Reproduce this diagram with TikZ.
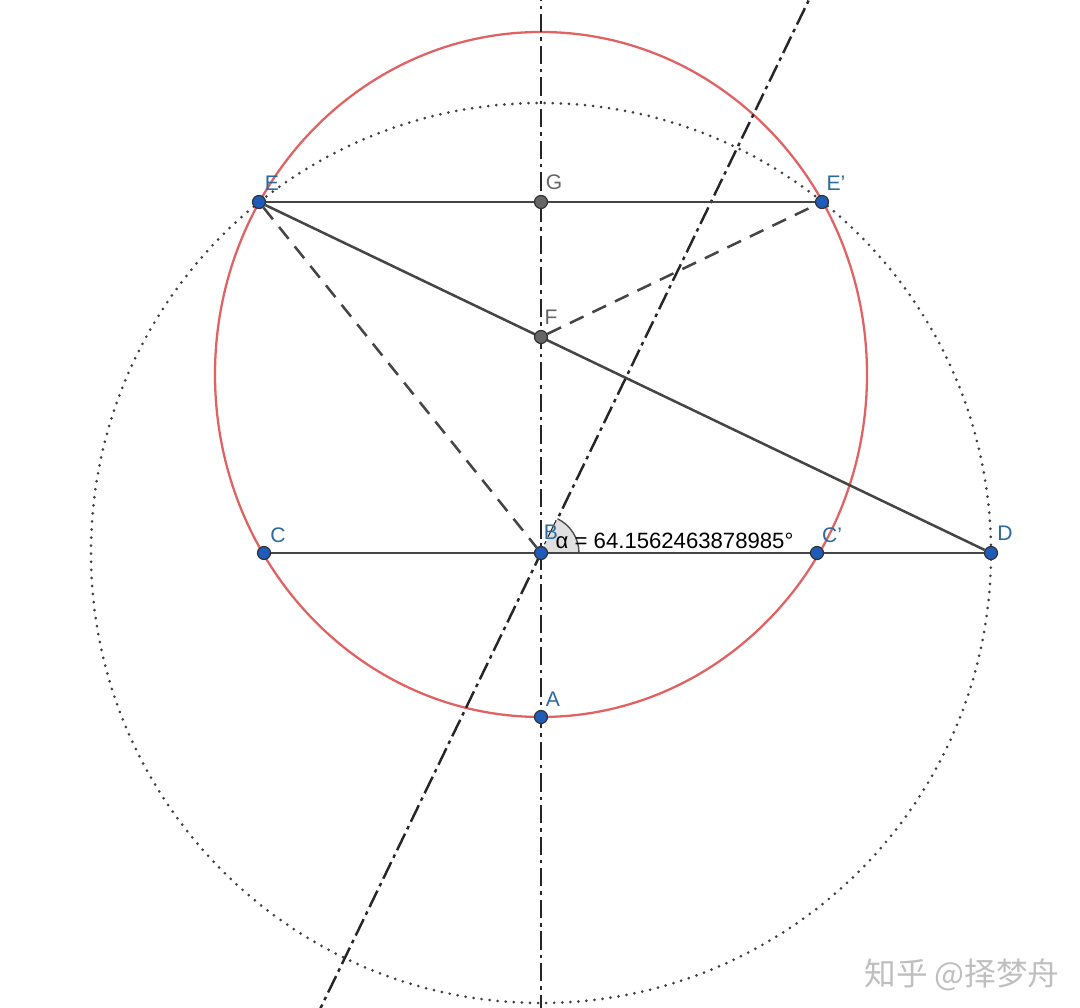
\documentclass[tikz,border=0pt]{standalone}
\usepackage{fontspec}
\setmainfont{Liberation Sans}
\newfontfamily\cjkfont{Noto Sans CJK SC}
\usepackage{tikz}
\usetikzlibrary{backgrounds}

\definecolor{ptblue}{HTML}{1F5BB8}
\definecolor{lblblue}{HTML}{2B6A9E}
\definecolor{ringred}{HTML}{E06262}
\definecolor{segdark}{HTML}{454545}

\begin{document}
\begin{tikzpicture}[
    pt/.style={circle, draw=black!80, fill=ptblue, line width=0.35pt, inner sep=0pt, minimum size=0.13cm},
    gpt/.style={pt, fill=black!60},
    lbl/.style={font=\fontsize{6}{7}\selectfont, text=lblblue, inner sep=0pt, anchor=center},
    glbl/.style={lbl, text=black!60},
    seg/.style={segdark, line width=0.72pt},
    dseg/.style={seg, dash pattern=on 4.3pt off 2.8pt},
    axisline/.style={black!85, line width=0.7pt, dash pattern=on 5.2pt off 1.4pt on 1pt off 1.4pt},
    ring/.style={ringred, line width=0.65pt},
    dotring/.style={black!75, line width=0.85pt, line cap=round, dash pattern=on 0pt off 2.3pt},
    wmark/.style={font=\cjkfont\fontsize{9}{10}\selectfont, text=black!25}
]
    \useasboundingbox (-5.41, -4.55) rectangle (5.39, 5.53);

    \node[pt] at (0, 0) (B) {};
    \node[pt] at (0, -1.64) (A) {};
    \node[pt] at (-2.77, 0) (C) {};
    \node[pt] at (2.76, 0) (Cp) {};
    \node[pt] at (4.50, 0) (D) {};
    \node[pt] at (-2.82, 3.51) (E) {};
    \node[pt] at (2.81, 3.51) (Ep) {};
    \node[gpt] at (0, 3.51) (G) {};
    \node[gpt] at (0, 2.16) (F) {};

    \node[lbl] at (0.10, 0.21) (lB) {B};
    \node[lbl] at (0.12, -1.46) (lA) {A};
    \node[lbl] at (-2.63, 0.18) (lC) {C};
    \node[lbl] at (2.91, 0.18) (lCp) {C'};
    \node[lbl] at (4.64, 0.20) (lD) {D};
    \node[lbl] at (-2.69, 3.70) (lE) {E};
    \node[lbl] at (2.95, 3.70) (lEp) {E'};
    \node[glbl] at (0.13, 3.71) (lG) {G};
    \node[glbl] at (0.10, 2.36) (lF) {F};
    \node[anchor=west, inner sep=0pt, font=\fontsize{6.3}{7}\selectfont] at (0.14, 0.12) (ang) {α = 64.1562463878985°};

    \node[wmark] at (4.21, -4.22) (wm) {知乎 @择梦舟};

    \coordinate (Vt) at (0, 5.6);
    \coordinate (Vb) at (0, -4.6);
    \coordinate (St) at (64.156:6.3);
    \coordinate (Sb) at (244.156:5.2);

    \begin{pgfonlayer}{background}
        \clip (-5.41, -4.55) rectangle (5.39, 5.53);
        \draw[ring] (0, 1.785) ellipse [x radius=3.26, y radius=3.425];
        \draw[dotring] (B.center) circle (4.5);

        \draw[axisline] (Vb) -- (Vt);
        \draw[axisline] (Sb) -- (St);

        \fill[black!12] (B.center) -- (0:0.38) arc (0:64.156:0.38) -- cycle;
        \draw[black!70, line width=0.4pt] (0:0.38) arc (0:64.156:0.38);

        \draw[seg] (E) -- (Ep);
        \draw[seg] (C) -- (D);
        \draw[seg] (E) -- (D);
        \draw[dseg] (E) -- (B);
        \draw[dseg] (F) -- (Ep);
    \end{pgfonlayer}
\end{tikzpicture}
\end{document}
